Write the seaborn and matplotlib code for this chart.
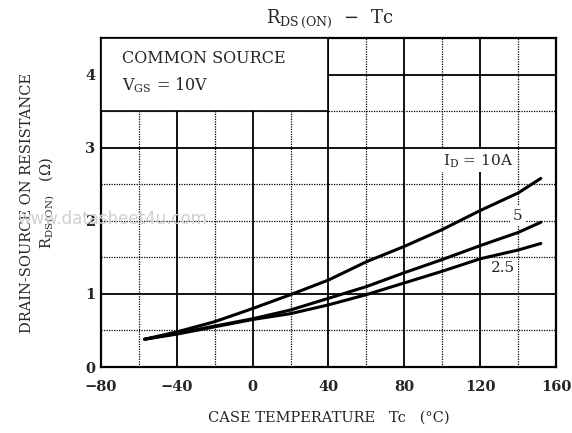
import matplotlib
matplotlib.use("Agg")
import matplotlib.pyplot as plt
import seaborn as sns
import pandas as pd
from matplotlib.patches import Rectangle

# Data
temps = [-57, -40, -20, 0, 20, 40, 60, 80, 100, 120, 140, 152]
r_10a = [0.38, 0.48, 0.62, 0.80, 0.99, 1.19, 1.44, 1.65, 1.88, 2.14, 2.38, 2.58]
r_5a = [0.38, 0.46, 0.56, 0.66, 0.78, 0.94, 1.10, 1.29, 1.47, 1.66, 1.84, 1.98]
r_25a = [0.38, 0.45, 0.55, 0.65, 0.73, 0.85, 0.99, 1.15, 1.31, 1.48, 1.60, 1.69]
series_names = ["10", "5", "2.5"]
x_ticks = [-80, -40, 0, 40, 80, 120, 160]
x_tick_labels = ["\u221280", "\u221240", "0", "40", "80", "120", "160"]
y_ticks = [0, 1, 2, 3, 4]

df = pd.concat([
    pd.DataFrame({"Tc": temps, "R": vals, "ID": name})
    for name, vals in zip(series_names, [r_10a, r_5a, r_25a])
])

sns.set_theme(style="white")
plt.rcParams["font.family"] = ["DejaVu Serif"]
plt.rcParams["mathtext.fontset"] = "dejavuserif"

fig = plt.figure(figsize=(5.72, 4.33), dpi=100)
ax = fig.add_axes([0.1766, 0.1524, 0.7954, 0.7598])

sns.lineplot(data=df, x="Tc", y="R", hue="ID", palette=["black"] * 3,
             linewidth=2.2, legend=False, ax=ax, zorder=4, sort=False)

ax.set_xlim(-80, 160)
ax.set_ylim(0, 4.5)

# grid
for xv in range(-60, 160, 20):
    if xv % 40 == 0:
        ax.axvline(xv, color="black", lw=1.3, zorder=1)
    else:
        ax.axvline(xv, color="black", lw=0.9, ls=(0, (1, 1)), zorder=1)
for yv in [0.5, 1.0, 1.5, 2.0, 2.5, 3.0, 3.5, 4.0]:
    if yv in (1.0, 3.0, 4.0):
        ax.axhline(yv, color="black", lw=1.3, zorder=1)
    else:
        ax.axhline(yv, color="black", lw=0.9, ls=(0, (1, 1)), zorder=1)

# condition box
ax.add_patch(Rectangle((-80, 3.5), 120, 1.0, facecolor="white",
                       edgecolor="black", lw=1.2, zorder=3))
ax.text(-69, 4.22, "COMMON SOURCE", fontsize=11.5, va="center", zorder=5)
ax.text(-69, 3.86, r"V$_{\mathrm{GS}}$ = 10V", fontsize=11.5, va="center", zorder=5)

# curve labels
bbox = dict(facecolor="white", edgecolor="none", pad=2)
ax.text(119, 2.82, r"I$_{\mathrm{D}}$ = 10A", fontsize=11, ha="center",
        va="center", zorder=5, bbox=bbox)
ax.text(139.5, 2.07, "5", fontsize=11, ha="center", va="center", zorder=5, bbox=bbox)
ax.text(132, 1.35, "2.5", fontsize=11, ha="center", va="center", zorder=5, bbox=bbox)

ax.set_xticks(x_ticks)
ax.set_xticklabels(x_tick_labels, fontsize=10.5, fontweight="bold")
ax.set_yticks(y_ticks)
ax.set_yticklabels([str(v) for v in y_ticks], fontsize=10.5, fontweight="bold")
ax.tick_params(axis="x", length=0, pad=9)
ax.tick_params(axis="y", length=0, pad=4)

for s in ax.spines.values():
    s.set_color("black")
    s.set_linewidth(1.6)

ax.set_xlabel("CASE TEMPERATURE   Tc   (\u00b0C)", fontsize=10.5, labelpad=12)
ax.set_ylabel("DRAIN-SOURCE ON RESISTANCE\n" + r"R$_{\mathrm{DS\,(ON)}}$   ($\Omega$)",
              fontsize=10.5, labelpad=20, linespacing=1.3)

fig.text(0.577, 0.957, r"R$_{\mathrm{DS\,(ON)}}$  " + "\u2212  Tc", fontsize=13,
         ha="center", va="center")

fig.text(0.03, 0.495, "www.datasheet4u.com", fontsize=12, color="#d0d0d0",
         family="DejaVu Sans", va="center", zorder=0)

fig.savefig("out.png", dpi=100, facecolor="white")
